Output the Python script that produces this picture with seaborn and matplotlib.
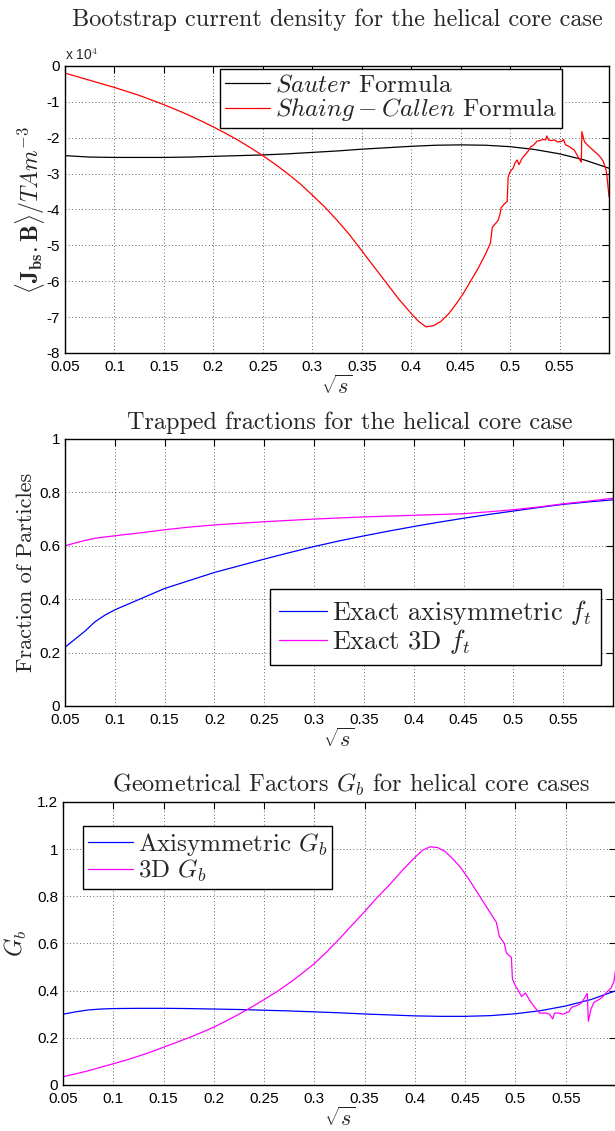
import numpy as np
import seaborn as sns
import matplotlib.pyplot as plt
from matplotlib.ticker import FuncFormatter

# bootstrap current (units of 1e4)
x_sauter = [0.05, 0.075, 0.1, 0.125, 0.15, 0.175, 0.2, 0.225, 0.25, 0.275, 0.3, 0.325,
            0.35, 0.375, 0.4, 0.425, 0.45, 0.475, 0.5, 0.525, 0.55, 0.575, 0.6]
sauter = [-2.5, -2.54, -2.55, -2.55, -2.55, -2.54, -2.52, -2.5, -2.48, -2.45, -2.41, -2.37,
          -2.32, -2.28, -2.24, -2.21, -2.2, -2.21, -2.25, -2.33, -2.45, -2.62, -2.85]

x_sc = [0.05, 0.0625, 0.075, 0.0875, 0.1, 0.1125, 0.125, 0.1375, 0.15, 0.1625, 0.175, 0.1875,
        0.2, 0.2125, 0.225, 0.2375, 0.25, 0.2625, 0.275, 0.2875, 0.3, 0.3125, 0.325, 0.3375,
        0.35, 0.3625, 0.375, 0.3875, 0.4, 0.4075, 0.415, 0.4225, 0.43, 0.4375, 0.445, 0.4525,
        0.46, 0.4675, 0.475, 0.48,
        0.482, 0.485, 0.488, 0.49, 0.491, 0.494, 0.497, 0.498, 0.5, 0.503, 0.505, 0.507,
        0.509, 0.512, 0.515, 0.518, 0.521, 0.524, 0.527, 0.53, 0.533, 0.536, 0.537, 0.539,
        0.542, 0.545, 0.548, 0.552, 0.554, 0.556, 0.56, 0.565, 0.57, 0.572, 0.5725, 0.575,
        0.578, 0.582, 0.586, 0.59, 0.594, 0.597, 0.598, 0.6]
shaing_callen = [-0.2, -0.3, -0.4, -0.5, -0.6, -0.71, -0.82, -0.95, -1.08, -1.22, -1.37, -1.53,
                 -1.7, -1.88, -2.07, -2.28, -2.5, -2.74, -3.0, -3.28, -3.6, -3.93, -4.3, -4.7,
                 -5.15, -5.6, -6.05, -6.5, -6.9, -7.12, -7.27, -7.24, -7.12, -6.92, -6.65, -6.35,
                 -6.0, -5.65, -5.25, -4.95,
                 -4.5, -4.4, -4.3, -4.1, -3.95, -3.85, -3.78, -3.1, -2.95, -2.85, -2.7, -2.62,
                 -2.75, -2.58, -2.48, -2.38, -2.25, -2.2, -2.1, -2.08, -2.05, -2.06, -1.95, -2.07,
                 -2.08, -2.06, -2.12, -2.1, -2.05, -2.2, -2.25, -2.35, -2.6, -2.68, -1.83, -2.1,
                 -2.2, -2.3, -2.4, -2.5, -2.65, -2.9, -3.1, -3.65]

# trapped fractions
x_ft = [0.05, 0.06, 0.07, 0.08, 0.09, 0.1, 0.1125, 0.125, 0.1375, 0.15, 0.175, 0.2, 0.225, 0.25,
        0.275, 0.3, 0.325, 0.35, 0.375, 0.4, 0.425, 0.45, 0.475, 0.5, 0.525, 0.55, 0.575, 0.6]
ft_axi = [0.22, 0.25, 0.28, 0.315, 0.34, 0.36, 0.38, 0.40, 0.42, 0.44, 0.47, 0.50, 0.525, 0.55,
          0.574, 0.597, 0.618, 0.637, 0.655, 0.672, 0.688, 0.703, 0.717, 0.73, 0.743, 0.755, 0.764, 0.772]
ft_3d = [0.60, 0.61, 0.62, 0.628, 0.633, 0.637, 0.643, 0.648, 0.654, 0.66, 0.67, 0.678, 0.684, 0.69,
         0.695, 0.70, 0.704, 0.708, 0.711, 0.714, 0.717, 0.72, 0.727, 0.735, 0.745, 0.757, 0.767, 0.778]

# geometrical factors
x_gb_axi = [0.05, 0.0625, 0.075, 0.0875, 0.1, 0.125, 0.15, 0.175, 0.2, 0.225, 0.25, 0.275, 0.3,
            0.325, 0.35, 0.375, 0.4, 0.425, 0.45, 0.475, 0.5, 0.525, 0.55, 0.575, 0.6]
gb_axi = [0.30, 0.31, 0.318, 0.322, 0.324, 0.325, 0.325, 0.324, 0.322, 0.32, 0.317, 0.314, 0.31,
          0.306, 0.301, 0.297, 0.293, 0.291, 0.291, 0.294, 0.302, 0.315, 0.335, 0.362, 0.40]
x_gb = [0.05, 0.0625, 0.075, 0.0875, 0.1, 0.1125, 0.125, 0.1375, 0.15, 0.1625, 0.175, 0.1875,
        0.2, 0.2125, 0.225, 0.2375, 0.25, 0.2625, 0.275, 0.2875, 0.3, 0.3125, 0.325, 0.3375,
        0.35, 0.3625, 0.375, 0.3875, 0.4, 0.4075, 0.415, 0.4225, 0.43, 0.4375, 0.445, 0.4525,
        0.46, 0.4675, 0.475, 0.481, 0.484, 0.489, 0.491, 0.496, 0.497, 0.5, 0.503, 0.506,
        0.51, 0.514, 0.519, 0.524, 0.53, 0.534, 0.537, 0.539, 0.543, 0.547, 0.55, 0.553,
        0.556, 0.56, 0.565, 0.569, 0.571, 0.5715, 0.5725, 0.575, 0.578, 0.582, 0.586, 0.591,
        0.595, 0.598, 0.6]
gb_3d = [0.035, 0.047, 0.06, 0.075, 0.09, 0.105, 0.122, 0.14, 0.16, 0.18, 0.2, 0.222,
         0.245, 0.272, 0.3, 0.33, 0.362, 0.395, 0.432, 0.472, 0.515, 0.565, 0.62, 0.678,
         0.735, 0.795, 0.85, 0.91, 0.965, 0.995, 1.01, 1.007, 0.99, 0.96, 0.925, 0.88,
         0.83, 0.78, 0.73, 0.69, 0.63, 0.6, 0.56, 0.54, 0.45, 0.42, 0.4, 0.375,
         0.39, 0.36, 0.33, 0.305, 0.305, 0.3, 0.28, 0.305, 0.305, 0.3, 0.305, 0.31,
         0.33, 0.335, 0.345, 0.37, 0.387, 0.387, 0.27, 0.32, 0.35, 0.36, 0.37, 0.395,
         0.41, 0.44, 0.5]

xticks = [0.05, 0.1, 0.15, 0.2, 0.25, 0.3, 0.35, 0.4, 0.45, 0.5, 0.55]

sns.set_style("white")
plt.rcParams['font.family'] = ['Liberation Sans', 'DejaVu Sans']
plt.rcParams['mathtext.fontset'] = 'cm'
plt.rcParams['axes.unicode_minus'] = False

serif = 'cmr10'
fig = plt.figure(figsize=(6.15, 11.31), dpi=100)
ax1 = fig.add_axes([0.1057, 0.6879, 0.8846, 0.2538])
ax2 = fig.add_axes([0.1057, 0.3758, 0.891, 0.2361])
ax3 = fig.add_axes([0.1024, 0.0407, 0.8992, 0.2502])

fmt = FuncFormatter(lambda v, p: ('%g' % round(v, 4)))

def style(ax, yticks, ylim):
    ax.set_xlim(0.05, 0.6)
    ax.set_ylim(*ylim)
    ax.set_xticks(xticks)
    ax.set_yticks(yticks)
    ax.xaxis.set_major_formatter(fmt)
    ax.yaxis.set_major_formatter(fmt)
    ax.grid(True, color='#333333', linestyle=(0, (1, 3)), linewidth=0.6)
    ax.tick_params(direction='in', top=True, right=True, length=5, width=0.8,
                   labelsize=11, colors='black')
    ax.tick_params(axis='x', pad=5)
    for s in ax.spines.values():
        s.set_color('black')
        s.set_linewidth(1.0)
    ax.set_xlabel(r'$\sqrt{s}$', fontsize=16, labelpad=1)

def legend(ax, anchor, size=18, pad=0.2):
    leg = ax.legend(loc='upper left', bbox_to_anchor=anchor, prop={'family': serif, 'size': size},
                    frameon=True, fancybox=False, framealpha=1, edgecolor='black',
                    handlelength=1.8, handletextpad=0.2, borderpad=pad, labelspacing=0.0,
                    borderaxespad=0)
    leg.get_frame().set_linewidth(1.0)

# top panel
sns.lineplot(x=x_sauter, y=np.array(sauter) * 1e4, ax=ax1, color='black', linewidth=0.9,
             estimator=None, label=r'$Sauter$ Formula')
sns.lineplot(x=x_sc, y=np.array(shaing_callen) * 1e4, ax=ax1, color='red', linewidth=0.9,
             estimator=None, label=r'$Shaing-Callen$ Formula')
style(ax1, np.arange(-8, 1) * 1e4, (-8e4, 0))
ax1.yaxis.set_major_formatter(FuncFormatter(lambda v, p: '%g' % round(v / 1e4)))
ax1.text(0.0, 1.01, r'x 10$^4$', transform=ax1.transAxes, fontsize=10, va='bottom', ha='left')
ax1.set_ylabel(r'$\langle \mathbf{J}_{\mathrm{\mathbf{bs}}}.\mathbf{B}\rangle / TAm^{-3}$', fontsize=17, labelpad=0)
ax1.set_title('Bootstrap current density for the helical core case', family=serif, fontsize=17.5, pad=29)
legend(ax1, (0.285, 0.99))

# middle panel
sns.lineplot(x=x_ft, y=ft_axi, ax=ax2, color='blue', linewidth=0.9, estimator=None,
             label=r'Exact axisymmetric $f_t$')
sns.lineplot(x=x_ft, y=ft_3d, ax=ax2, color='magenta', linewidth=0.9, estimator=None,
             label=r'Exact 3D $f_t$')
style(ax2, [0, 0.2, 0.4, 0.6, 0.8, 1], (0, 1))
ax2.set_ylabel('Fraction of Particles', family=serif, fontsize=16, labelpad=2)
ax2.set_title('Trapped fractions for the helical core case', family=serif, fontsize=17.5, pad=7, x=0.52)
legend(ax2, (0.374, 0.438), size=19, pad=0.35)

# bottom panel
sns.lineplot(x=x_gb_axi, y=gb_axi, ax=ax3, color='blue', linewidth=0.9, estimator=None,
             label=r'Axisymmetric $G_b$')
sns.lineplot(x=x_gb, y=gb_3d, ax=ax3, color='magenta', linewidth=0.9, estimator=None,
             label=r'3D $G_b$')
style(ax3, [0, 0.2, 0.4, 0.6, 0.8, 1, 1.2], (0, 1.2))
ax3.set_ylabel(r'$G_b$', fontsize=17, labelpad=6)
ax3.set_title(r'Geometrical Factors $G_b$ for helical core cases', family=serif, fontsize=17.5, pad=7, x=0.52)
legend(ax3, (0.036, 0.915))

fig.savefig('out.png', dpi=100)
